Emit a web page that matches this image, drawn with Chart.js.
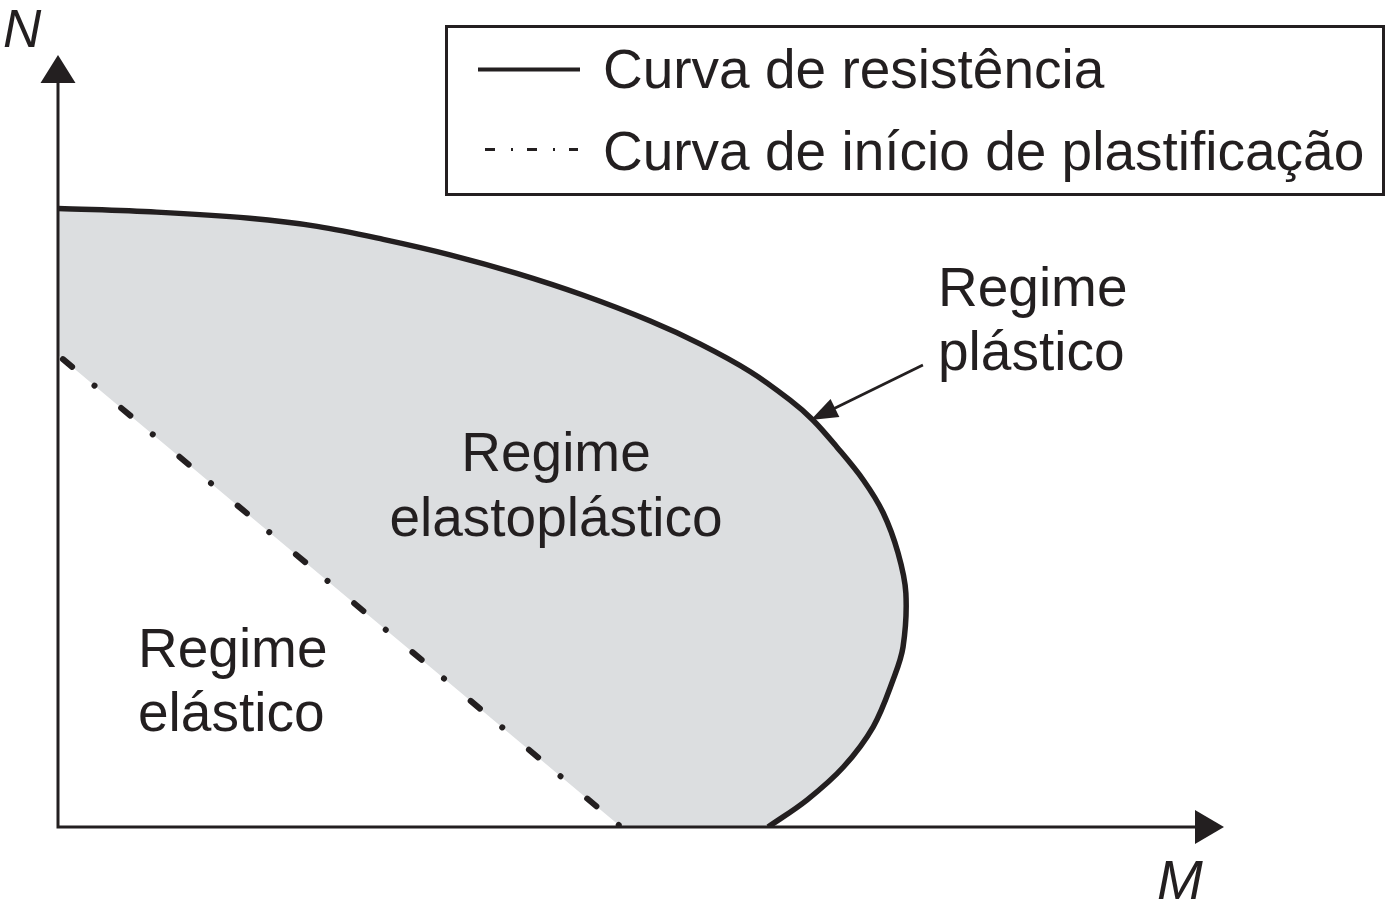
<!DOCTYPE html>
<html><head><meta charset="utf-8">
<style>html,body{margin:0;padding:0;background:#fff;overflow:hidden}canvas{display:block}</style>
<script src="https://cdn.jsdelivr.net/npm/chart.js@4.4.1/dist/chart.umd.min.js"></script>
</head><body>
<canvas id="c" width="1387" height="912" style="width:1387px;height:912px"></canvas>
<script>
// Interaction diagram (normalised: M / Mp, N / Np)
const curveM = [0, 0.139, 0.270, 0.365, 0.458, 0.552, 0.646, 0.739, 0.834, 0.904, 0.975, 1.031, 1.063, 1.097, 1.134, 1.162, 1.183, 1.194, 1.190, 1.176, 1.148, 1.106, 1.055, 1.0];
const curveN = [1.0, 0.994, 0.984, 0.971, 0.950, 0.925, 0.895, 0.860, 0.818, 0.781, 0.736, 0.690, 0.658, 0.614, 0.561, 0.508, 0.443, 0.378, 0.291, 0.238, 0.162, 0.097, 0.044, 0];
const yieldM = [0, 0.793];
const yieldN = [0.763, 0];
const axisMaxM = 1.642;
const axisMaxN = 1.248;
const seriesNames = ['Curva de resistência', 'Curva de início de plastificação'];
const axisNames = ['M', 'N'];
const regionNames = [['Regime', 'elastoplástico'], ['Regime', 'elástico'], ['Regime', 'plástico']];
const arrowM = [1.218, 1.060];
const arrowN = [0.747, 0.658];

const INK = '#231f20';
const GRAY = '#dcdee0';
const FONT = '"Liberation Sans", Arial, Helvetica, sans-serif';

const curvePts = curveM.map((m, i) => ({x: m, y: curveN[i]}));
const yieldPts = yieldM.map((m, i) => ({x: m, y: yieldN[i]}));
const last = curvePts[curvePts.length - 1];
// closed region between the two curves (corners doubled to keep them sharp)
const regionPts = [...curvePts, last, yieldPts[1], yieldPts[1], yieldPts[0]];

const diagram = {
  id: 'diagram',
  afterDatasetsDraw(chart) {
    const ctx = chart.ctx;
    const xs = chart.scales.x, ys = chart.scales.y;
    const x0 = xs.getPixelForValue(0), y0 = ys.getPixelForValue(0);
    const xEnd = xs.getPixelForValue(axisMaxM), yEnd = ys.getPixelForValue(axisMaxN);
    ctx.save();
    ctx.strokeStyle = INK; ctx.fillStyle = INK; ctx.lineWidth = 3; ctx.lineCap = 'butt';
    // axes
    ctx.beginPath();
    ctx.moveTo(x0, y0); ctx.lineTo(xEnd - 20, y0);
    ctx.moveTo(x0, y0 + 1.5); ctx.lineTo(x0, yEnd + 20);
    ctx.stroke();
    // arrow heads
    ctx.beginPath();
    ctx.moveTo(xEnd, y0); ctx.lineTo(xEnd - 29, y0 - 17); ctx.lineTo(xEnd - 29, y0 + 17); ctx.closePath();
    ctx.fill();
    ctx.beginPath();
    ctx.moveTo(x0, yEnd); ctx.lineTo(x0 - 17.5, yEnd + 28); ctx.lineTo(x0 + 17.5, yEnd + 28); ctx.closePath();
    ctx.fill();
    // annotation arrow
    const ax1 = xs.getPixelForValue(arrowM[0]), ay1 = ys.getPixelForValue(arrowN[0]);
    const ax2 = xs.getPixelForValue(arrowM[1]), ay2 = ys.getPixelForValue(arrowN[1]);
    const ang = Math.atan2(ay2 - ay1, ax2 - ax1);
    const hl = 27, hw = 10;
    const bx = ax2 - hl * Math.cos(ang), by = ay2 - hl * Math.sin(ang);
    ctx.lineWidth = 2.8;
    ctx.beginPath(); ctx.moveTo(ax1, ay1); ctx.lineTo(bx + 2 * Math.cos(ang), by + 2 * Math.sin(ang)); ctx.stroke();
    ctx.beginPath();
    ctx.moveTo(ax2, ay2);
    ctx.lineTo(bx + hw * Math.sin(ang), by - hw * Math.cos(ang));
    ctx.lineTo(bx - hw * Math.sin(ang), by + hw * Math.cos(ang));
    ctx.closePath(); ctx.fill();
    ctx.restore();
  },
  afterDraw(chart) {
    const ctx = chart.ctx;
    ctx.save();
    ctx.fillStyle = INK; ctx.strokeStyle = INK;
    ctx.textBaseline = 'alphabetic';
    // axis names
    ctx.font = 'italic 53px ' + FONT;
    ctx.textAlign = 'left';
    ctx.fillText(axisNames[1], 3, 47);
    ctx.font = 'italic 55px ' + FONT;
    ctx.fillText(axisNames[0], 1157, 899);
    // region labels
    ctx.font = '55px ' + FONT;
    ctx.textAlign = 'center';
    ctx.fillText(regionNames[0][0], 556, 471);
    ctx.fillText(regionNames[0][1], 556, 536);
    ctx.textAlign = 'left';
    ctx.fillText(regionNames[1][0], 138, 667);
    ctx.fillText(regionNames[1][1], 138, 731);
    ctx.fillText(regionNames[2][0], 938, 306);
    ctx.fillText(regionNames[2][1], 938, 370);
    // legend
    ctx.lineWidth = 3;
    ctx.strokeRect(446.5, 26.5, 937, 168);
    ctx.lineWidth = 4; ctx.lineCap = 'butt';
    ctx.beginPath(); ctx.moveTo(478, 69.5); ctx.lineTo(580, 69.5); ctx.stroke();
    ctx.lineWidth = 3;
    ctx.setLineDash([10, 16, 2, 14]);
    ctx.beginPath(); ctx.moveTo(485, 149.5); ctx.lineTo(578, 149.5); ctx.stroke();
    ctx.setLineDash([]);
    ctx.fillText(seriesNames[0], 603, 88);
    ctx.fillText(seriesNames[1], 603, 170);
    ctx.restore();
  }
};

new Chart(document.getElementById('c'), {
  type: 'scatter',
  data: {
    datasets: [
      {
        label: seriesNames[1], data: yieldPts, showLine: true, order: 0,
        borderColor: INK, borderWidth: 6, borderCapStyle: 'round',
        borderDash: [12, 29.2, 0.01, 34.8], borderDashOffset: -6.4,
        pointRadius: 0, fill: false
      },
      {
        label: seriesNames[0], data: curvePts, showLine: true, order: 1,
        borderColor: INK, borderWidth: 5.5, tension: 0.35,
        pointRadius: 0, fill: false
      },
      {
        label: 'Regime elastoplástico', data: regionPts, showLine: true, order: 2,
        borderColor: 'rgba(0,0,0,0)', borderWidth: 0, backgroundColor: GRAY,
        tension: 0.35, pointRadius: 0, fill: 'shape'
      }
    ]
  },
  options: {
    responsive: false,
    animation: false,
    devicePixelRatio: 1,
    layout: {padding: {left: 58, right: 163, top: 55, bottom: 85}},
    scales: {
      x: {type: 'linear', min: 0, max: axisMaxM, display: false},
      y: {type: 'linear', min: 0, max: axisMaxN, display: false}
    },
    plugins: {legend: {display: false}, tooltip: {enabled: false}},
    events: []
  },
  plugins: [diagram]
});
</script>
</body></html>
